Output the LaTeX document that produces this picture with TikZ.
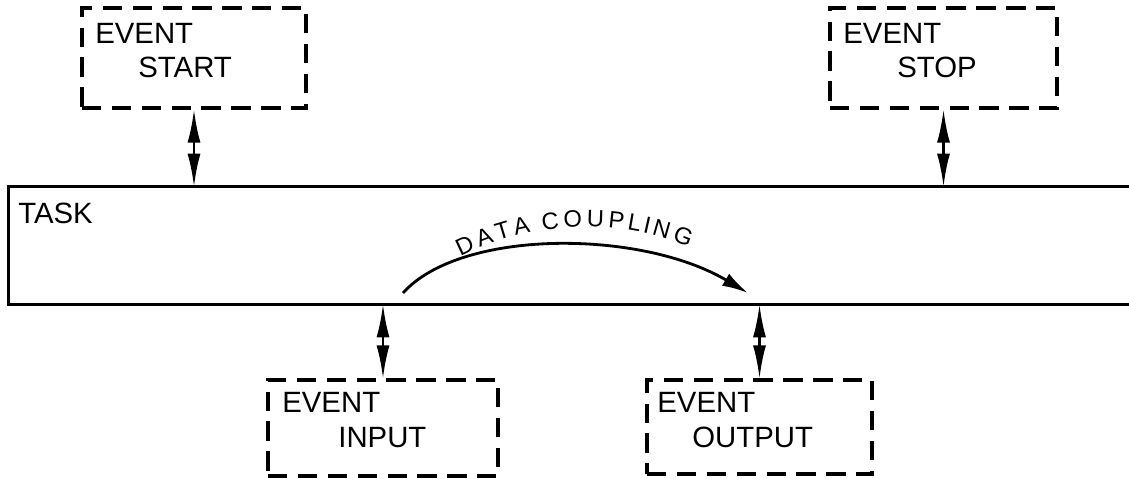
\documentclass[tikz,border=0pt]{standalone}
\usepackage{fontspec}
\setmainfont{Liberation Sans}
\usetikzlibrary{arrows.meta, decorations.text}

\newcommand{\couplingfont}{\fontsize{13.5}{16}\selectfont}

\begin{document}
\begin{tikzpicture}[
      x=0.02cm, y=-0.02cm,
      event/.style={draw, line width=1.8pt, dash pattern=on 11pt off 6pt, inner sep=0pt},
      word/.style={inner sep=0pt, anchor=base west, font=\fontsize{16.7}{20}\selectfont},
      link/.style={{Latex[length=0.66cm, width=0.26cm]}-{Latex[length=0.66cm, width=0.26cm]}, line width=1.4pt},
      flow/.style={-{Latex[length=0.52cm, width=0.28cm]}, line width=1.6pt}
    ]
    \useasboundingbox (0,0) rectangle (1129,484);

    % Nodes
    \node[inner sep=0pt, minimum width=22.4cm, minimum height=2.34cm] (task) at (569,245.5) {};
    \node[event, minimum width=4.48cm, minimum height=2cm] (start) at (194,58) {};
    \node[event, minimum width=4.54cm, minimum height=2cm] (stop) at (943.5,58) {};
    \node[event, minimum width=4.6cm, minimum height=1.92cm] (input) at (383,428) {};
    \node[event, minimum width=4.5cm, minimum height=1.88cm] (output) at (759.5,427) {};

    % Labels
    \node[word] (tasktext) at (18,223) {TASK};
    \node[word] (starttop) at (95,43) {EVENT};
    \node[word] (startbot) at (138,77) {START};
    \node[word] (stoptop) at (843,43) {EVENT};
    \node[word] (stopbot) at (897,77) {STOP};
    \node[word] (inputtop) at (282,412) {EVENT};
    \node[word] (inputbot) at (338,447) {INPUT};
    \node[word] (outputtop) at (657,412) {EVENT};
    \node[word] (outputbot) at (692,447) {OUTPUT};

    % Task box, open to the right
    \draw[line width=1.6pt] (task.north east) -- (task.north west) -- (task.south west) -- (task.south east);

    % Arrows
    \draw[link] (start.south) -- (start.south |- task.north);
    \draw[link] (stop.south) -- (stop.south |- task.north);
    \draw[link] (input.north) -- (input.north |- task.south);
    \draw[link] (output.north) -- (output.north |- task.south);

    % Data coupling
    \coordinate (dcfrom) at (403,293);
    \coordinate (dcto) at (748,293);
    \draw[flow] (dcfrom) .. controls (460,229) and (640,229) .. (dcto);
    \path[decorate, decoration={text effects along path, text={DATA COUPLING},
        text effects/.cd, fit text to path, every character/.style={font=\couplingfont, inner sep=0pt, transform shape}}]
        (457,249) .. controls (530,212) and (620,209) .. (692,240);

\end{tikzpicture}
\end{document}
